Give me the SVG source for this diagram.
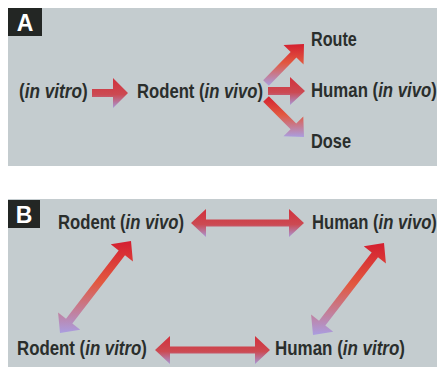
<svg xmlns="http://www.w3.org/2000/svg" width="439" height="369" viewBox="0 0 439 369">
<defs>
<linearGradient id="gh" x1="0" y1="0" x2="0" y2="1">
<stop offset="0" stop-color="#d2303c"/>
<stop offset="0.55" stop-color="#cc4a52"/>
<stop offset="1" stop-color="#a896d6"/>
</linearGradient>
<linearGradient id="gd" x1="0" y1="0" x2="0" y2="1">
<stop offset="0" stop-color="#d41f30"/>
<stop offset="0.45" stop-color="#e2583f"/>
<stop offset="1" stop-color="#aa9de0"/>
</linearGradient>
<style>
.panel{fill:#c4cccf}
.tag{fill:#232624}
.tagt{fill:#ffffff;font-family:"Liberation Sans",Arial,sans-serif;font-weight:bold;font-size:23px;text-anchor:middle}
.lbl{fill:#2a2e2c;font-family:"Liberation Sans",Arial,sans-serif;font-weight:bold;font-size:20px}
.it{font-style:italic}
.ah{fill:url(#gh)}
.ad{fill:url(#gd)}
</style>
</defs>
<rect width="439" height="369" fill="#ffffff"/>
<g id="panelA">
<rect class="panel" x="8" y="8" width="429" height="158"/>
<rect class="tag" x="8" y="8" width="34" height="28"/>
<text class="tagt" x="25" y="31">A</text>
</g>
<g id="panelB">
<rect class="panel" x="8" y="199" width="429" height="168"/>
<rect class="tag" x="8" y="200" width="32" height="28"/>
<text class="tagt" x="24" y="223">B</text>
</g>
<g id="connectors">
<polygon class="ah" points="92,89 113,89 113,78 128,93 113,108 113,97 92,97"/>
<polygon class="ah" points="268,87 290,87 290,77 305,91 290,105 290,95 268,95"/>
<polygon class="ad" points="268.86,85.79 296.39,57.53 303.55,64.51 304,44 283.51,44.97 290.67,51.95 263.14,80.21"/>
<polygon class="ad" points="263.17,101.83 290.56,129.22 283.49,136.29 304,137 303.29,116.49 296.22,123.56 268.83,96.17"/>
<polygon class="ah" points="191,223 206,209 206,219.5 289,219.5 289,209 304,223 289,237 289,226.5 206,226.5 206,237"/>
<polygon class="ah" points="155,350 170,336 170,346.5 255,346.5 255,336 270,350 255,364 255,353.5 170,353.5 170,364"/>
<polygon class="ad" points="131,241 110.74,244.33 118.66,250.44 66,318.68 58.08,312.57 60,333 80.26,329.67 72.34,323.56 125,255.32 132.92,261.43"/>
<polygon class="ad" points="384,243 363.74,246.33 371.66,252.44 319,320.68 311.08,314.57 313,335 333.26,331.67 325.34,325.56 378,257.32 385.92,263.43"/>
</g>
<g id="a-invitro"><text class="lbl" transform="translate(19,98) scale(0.86,1)">(<tspan class="it">in vitro</tspan>)</text></g>
<g id="a-rodent-invivo"><text class="lbl" transform="translate(137,98) scale(0.834,1)">Rodent (<tspan class="it">in vivo</tspan>)</text></g>
<g id="a-route"><text class="lbl" transform="translate(311,46) scale(0.81,1)">Route</text></g>
<g id="a-human-invivo"><text class="lbl" transform="translate(311,97) scale(0.84,1)">Human (<tspan class="it">in vivo</tspan>)</text></g>
<g id="a-dose"><text class="lbl" transform="translate(311,148) scale(0.82,1)">Dose</text></g>
<g id="b-rodent-invivo"><text class="lbl" transform="translate(58,229) scale(0.834,1)">Rodent (<tspan class="it">in vivo</tspan>)</text></g>
<g id="b-human-invivo"><text class="lbl" transform="translate(312,229) scale(0.833,1)">Human (<tspan class="it">in vivo</tspan>)</text></g>
<g id="b-rodent-invitro"><text class="lbl" transform="translate(17,355) scale(0.842,1)">Rodent (<tspan class="it">in vitro</tspan>)</text></g>
<g id="b-human-invitro"><text class="lbl" transform="translate(275,355) scale(0.848,1)">Human (<tspan class="it">in vitro</tspan>)</text></g>
</svg>
